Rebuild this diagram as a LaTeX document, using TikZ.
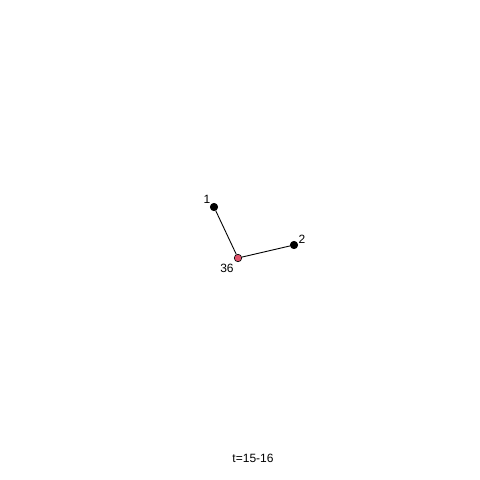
\documentclass[tikz,border=0pt]{standalone}
\usepackage{fontspec}
\setmainfont{Liberation Sans}
\definecolor{rpink}{HTML}{DF536B}
\begin{document}
\begin{tikzpicture}[x=1pt,y=-1pt,
  vtx/.style={circle,draw=black,line width=0.6pt,inner sep=0pt,minimum size=7.5pt},
  lbl/.style={font=\fontsize{12}{14}\selectfont,inner sep=0pt}]
\useasboundingbox (0,0) rectangle (480,480);
\node[vtx,fill=black] (n1) at (214,207) {};
\node[vtx,fill=black] (n2) at (294,245) {};
\node[vtx,fill=rpink] (n36) at (238,258) {};
\draw[line width=0.9pt] (n1) -- (n36);
\draw[line width=0.9pt] (n36) -- (n2);
\node[lbl] (l1) at (207,199) {1};
\node[lbl] (l2) at (302,239) {2};
\node[lbl] (l36) at (227,268) {36};
\node[lbl] (title) at (253,458) {t=15-16};
\end{tikzpicture}
\end{document}
